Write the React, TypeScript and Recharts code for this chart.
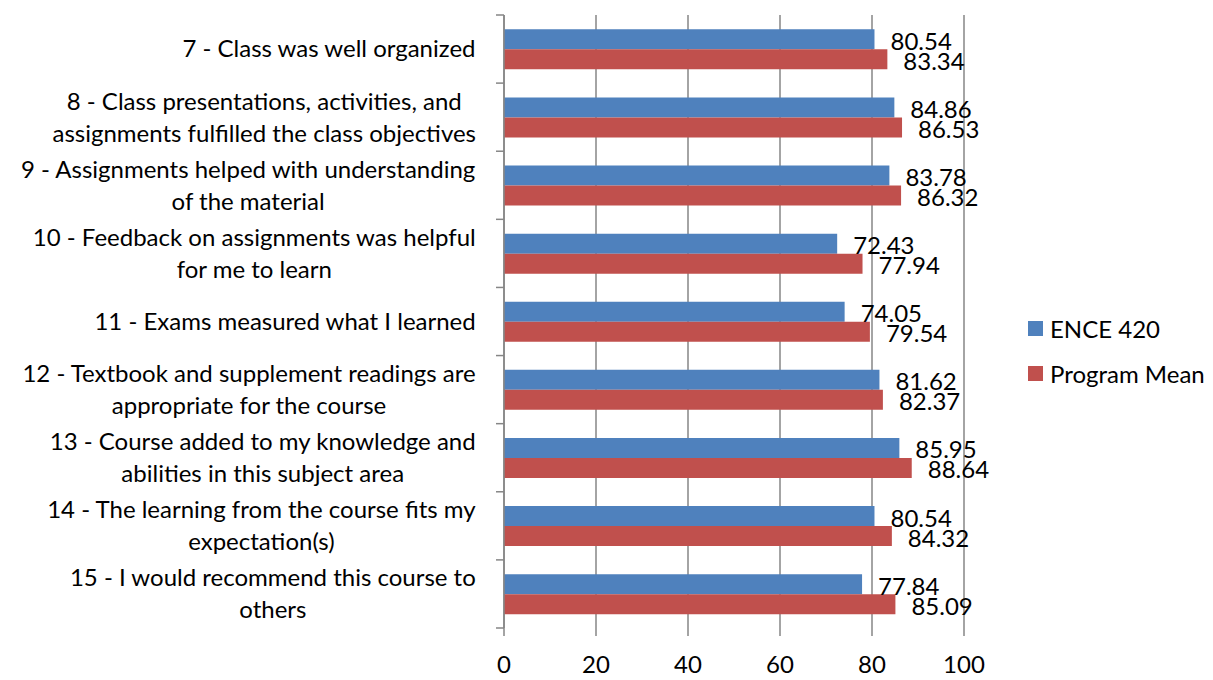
import React from 'react';
import { BarChart, Bar, XAxis, YAxis, CartesianGrid, Legend, LabelList } from 'recharts';

// 設問ラベル（改行は\nで指定）
const categories = [
  '7 - Class was well organized',
  '8 - Class presentations, activities, and\nassignments fulfilled the class objectives',
  '9 - Assignments helped with understanding\nof the material',
  '10 - Feedback on assignments was helpful\nfor me to learn',
  '11 - Exams measured what I learned',
  '12 - Textbook and supplement readings are\nappropriate for the course',
  '13 - Course added to my knowledge and\nabilities in this subject area',
  '14 - The learning from the course fits my\nexpectation(s)',
  '15 - I would recommend this course to\nothers',
];
const courseValues = [80.54, 84.86, 83.78, 72.43, 74.05, 81.62, 85.95, 80.54, 77.84];
const programValues = [83.34, 86.53, 86.32, 77.94, 79.54, 82.37, 88.64, 84.32, 85.09];
const xTicks = [0, 20, 40, 60, 80, 100];

const data = categories.map((name, i) => ({
  name,
  course: courseValues[i],
  program: programValues[i],
}));

const W = 1213;
const H = 680;
const TOP = 15;
const BOTTOM = 52;
const RIGHT = 249;
const AXIS_X = 504;
const FONT = 'Lato, "Open Sans", sans-serif';
const FONT_SIZE = 24;
const GRID = '#868686';

const ctx = typeof document !== 'undefined' ? document.createElement('canvas').getContext('2d') : null;
const measure = (s: string) => {
  if (!ctx) return s.length * 11;
  ctx.font = `${FONT_SIZE}px Lato`;
  return ctx.measureText(s).width;
};

const CategoryTick = (props: any) => {
  const { y, payload, index } = props;
  const lines = String(payload.value).split('\n');
  const band = (H - TOP - BOTTOM) / categories.length;
  const blockW = Math.max(...lines.map(measure));
  const cx = AXIS_X - 28 - blockW / 2;
  const lh = 32;
  const y0 = y - ((lines.length - 1) * lh) / 2;
  return (
    <g>
      <line x1={AXIS_X - 8} x2={AXIS_X} y1={y - band / 2} y2={y - band / 2} stroke={GRID} strokeWidth={1.5} />
      {index === categories.length - 1 && (
        <line x1={AXIS_X - 8} x2={AXIS_X} y1={y + band / 2} y2={y + band / 2} stroke={GRID} strokeWidth={1.5} />
      )}
      <text x={cx} y={y0} textAnchor="middle" fontFamily={FONT} fontSize={FONT_SIZE} fill="#000">
        {lines.map((l, i) => (
          <tspan key={i} x={cx} y={y0 + i * lh} dy="0.35em">
            {l}
          </tspan>
        ))}
      </text>
    </g>
  );
};

const LegendContent = (props: any) => (
  <div style={{ fontFamily: FONT, fontSize: FONT_SIZE }}>
    {(props.payload || []).map((p: any) => (
      <div key={p.value} style={{ display: 'flex', alignItems: 'center', height: 45 }}>
        <span style={{ width: 15, height: 15, background: p.color, marginRight: 7, display: 'inline-block' }} />
        <span>{p.value}</span>
      </div>
    ))}
  </div>
);

export default function App() {
  return (
    <div style={{ position: 'absolute', left: 0, top: 0, background: '#fff' }}>
      <BarChart
        width={W}
        height={H}
        data={data}
        layout="vertical"
        margin={{ top: TOP, right: RIGHT, left: 0, bottom: 0 }}
        barCategoryGap="21%"
        barGap={0}
      >
        <CartesianGrid horizontal={false} stroke={GRID} strokeWidth={1.5} />
        <XAxis
          type="number"
          domain={[0, 100]}
          ticks={xTicks}
          height={BOTTOM}
          axisLine={false}
          tickLine={{ stroke: GRID, strokeWidth: 1.5 }}
          tickSize={8}
          tickMargin={20}
          tick={{ fill: '#000', fontSize: FONT_SIZE, fontFamily: FONT }}
          interval={0}
        />
        <YAxis
          type="category"
          dataKey="name"
          width={AXIS_X}
          axisLine={{ stroke: GRID, strokeWidth: 1.5 }}
          tickLine={false}
          tick={<CategoryTick />}
          interval={0}
        />
        <Legend
          layout="vertical"
          align="center"
          verticalAlign="middle"
          content={<LegendContent />}
          wrapperStyle={{ left: 1028, top: 306, width: 185 }}
        />
        <Bar dataKey="course" name="ENCE 420" fill="#4F81BD" isAnimationActive={false}>
          <LabelList dataKey="course" position="right" offset={16} fill="#000" fontSize={FONT_SIZE} fontFamily={FONT} dy={2} />
        </Bar>
        <Bar dataKey="program" name="Program Mean" fill="#C0504D" isAnimationActive={false}>
          <LabelList dataKey="program" position="right" offset={16} fill="#000" fontSize={FONT_SIZE} fontFamily={FONT} dy={2} />
        </Bar>
      </BarChart>
    </div>
  );
}
